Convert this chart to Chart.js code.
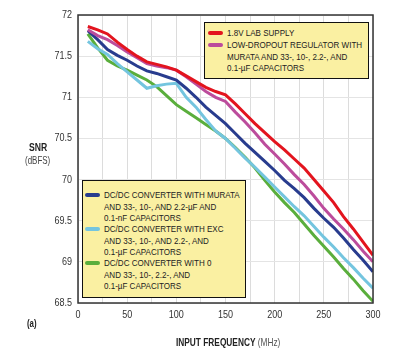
<!DOCTYPE html>
<html>
<head>
<meta charset="utf-8">
<script src="https://cdn.jsdelivr.net/npm/chart.js@4/dist/chart.umd.min.js"></script>
<style>
  html, body { margin: 0; padding: 0; background: #fff; }
  #wrap { position: relative; width: 394px; height: 356px; overflow: hidden;
          font-family: "Liberation Sans", Arial, sans-serif; color: #222; }
  canvas { position: absolute; left: 0; top: 0; }
  .lg { position: absolute; background: #FAF0A2; border: 1.5px solid #111; box-sizing: border-box; }
  .it { position: absolute; font-size: 9.8px; line-height: 11.6px; white-space: pre; color: #222;
        transform: scaleX(0.82); transform-origin: 0 0; }
  .sw { position: absolute; height: 4px; border-radius: 2px; }
  .t { position: absolute; white-space: nowrap; color: #222; transform-origin: 0 0; }
</style>
</head>
<body>
<div id="wrap">
  <canvas id="c" width="394" height="356"></canvas>
  <div class="t" style="left:29px; top:141px; font-size:10.8px; font-weight:bold; transform:scaleX(0.8);">SNR</div>
  <div class="t" style="left:25px; top:154px; font-size:10.5px; color:#444; transform:scaleX(0.76);">(dBFS)</div>
  <div class="t" style="left:27px; top:317px; font-size:10.5px; font-weight:bold; transform:scaleX(0.75);">(a)</div>
  <div class="t" style="left:176px; top:336px; font-size:10.8px; transform:scaleX(0.77);"><b>INPUT FREQUENCY</b> <span style="color:#555">(MHz)</span></div>
  <div id="lgTop" class="lg" style="left:204px; top:22px; width:165px; height:57px;"></div>
  <div id="lgBot" class="lg" style="left:82px; top:180px; width:164px; height:118px;"></div>
</div>
<script>
const freq = [10,20,30,40,50,60,70,80,90,100,110,120,130,140,150,160,170,180,190,200,210,220,230,240,250,260,270,280,290,300];
const labSupply = [71.86,71.82,71.77,71.67,71.58,71.50,71.43,71.40,71.37,71.33,71.26,71.19,71.12,71.07,71.03,70.92,70.80,70.68,70.57,70.46,70.36,70.25,70.14,70.00,69.86,69.72,69.55,69.40,69.24,69.08];
const ldoMurata = [71.82,71.75,71.70,71.63,71.55,71.48,71.41,71.38,71.36,71.33,71.25,71.16,71.07,71.00,70.95,70.82,70.70,70.57,70.43,70.31,70.19,70.06,69.94,69.80,69.65,69.52,69.40,69.27,69.13,69.00];
const dcdcMurata = [71.81,71.70,71.58,71.51,71.45,71.38,71.32,71.29,71.25,71.21,71.11,71.00,70.88,70.78,70.68,70.56,70.44,70.33,70.22,70.11,69.99,69.89,69.78,69.65,69.53,69.42,69.29,69.15,69.02,68.88];
const dcdcExc = [71.68,71.59,71.52,71.41,71.31,71.21,71.11,71.14,71.16,71.17,71.00,70.88,70.73,70.59,70.50,70.38,70.26,70.15,70.03,69.91,69.79,69.67,69.56,69.43,69.30,69.18,69.05,68.93,68.80,68.68];
const dcdcZero = [71.77,71.60,71.45,71.38,71.33,71.27,71.21,71.13,71.02,70.91,70.83,70.75,70.67,70.59,70.50,70.39,70.27,70.14,69.99,69.85,69.72,69.60,69.46,69.32,69.19,69.06,68.92,68.79,68.65,68.52];

const seriesLabels = [
  "1.8V LAB SUPPLY",
  "LOW-DROPOUT REGULATOR WITH\nMURATA AND 33-, 10-, 2.2-, AND\n0.1-\u00b5F CAPACITORS",
  "DC/DC CONVERTER WITH MURATA\nAND 33-, 10-, AND 2.2-\u00b5F AND\n0.1-nF CAPACITORS",
  "DC/DC CONVERTER WITH EXC\nAND 33-, 10-, AND 2.2-, AND\n0.1-\u00b5F CAPACITORS",
  "DC/DC CONVERTER WITH 0\nAND 33-, 10-, 2.2-, AND\n0.1-\u00b5F CAPACITORS"
];
const seriesValues = [labSupply, ldoMurata, dcdcMurata, dcdcExc, dcdcZero];
const seriesColors = ["#E3141E", "#BC4C9C", "#283C8E", "#74C5DF", "#5AAE3C"];
const xTicks = [0, 50, 100, 150, 200, 250, 300];
const yTicks = [68.5, 69, 69.5, 70, 70.5, 71, 71.5, 72];

const datasets = seriesValues.map((vals, i) => ({
  label: seriesLabels[i],
  data: freq.map((f, j) => ({ x: f, y: vals[j] })),
  borderColor: seriesColors[i],
  backgroundColor: seriesColors[i],
  borderWidth: 3,
  pointRadius: 0,
  tension: 0,
  fill: false
}));

const TICK_FONT = '11px "Liberation Sans", Arial, sans-serif';
const SQUEEZE = 0.82;

const frame = {
  id: 'frame',
  afterDraw(chart) {
    const a = chart.chartArea, ctx = chart.ctx;
    ctx.save();
    ctx.strokeStyle = '#333';
    ctx.lineWidth = 1.5;
    ctx.strokeRect(a.left, a.top, a.right - a.left, a.bottom - a.top);
    // condensed tick labels, positioned by the library's scales
    ctx.font = TICK_FONT;
    ctx.fillStyle = '#333';
    ctx.textBaseline = 'middle';
    const xs = chart.scales.x, ys = chart.scales.y;
    xTicks.forEach(v => {
      const px = xs.getPixelForValue(v);
      const txt = String(v);
      const w = ctx.measureText(txt).width * SQUEEZE;
      ctx.save();
      ctx.translate(px - w / 2, a.bottom + 12);
      ctx.scale(SQUEEZE, 1);
      ctx.textAlign = 'left';
      ctx.fillText(txt, 0, 0);
      ctx.restore();
    });
    yTicks.forEach(v => {
      const py = ys.getPixelForValue(v);
      const txt = String(v);
      const w = ctx.measureText(txt).width * SQUEEZE;
      ctx.save();
      ctx.translate(a.left - 6 - w, py);
      ctx.scale(SQUEEZE, 1);
      ctx.textAlign = 'left';
      ctx.fillText(txt, 0, 0);
      ctx.restore();
    });
    ctx.restore();
  }
};

new Chart(document.getElementById('c'), {
  type: 'line',
  data: { datasets },
  options: {
    responsive: false,
    animation: false,
    layout: { padding: { left: 0, right: 21, top: 15, bottom: 0 } },
    plugins: { legend: { display: false }, tooltip: { enabled: false } },
    scales: {
      x: {
        type: 'linear', min: 0, max: 300,
        afterFit(s) { s.height = 53; },
        afterBuildTicks(s) { s.ticks = []; for (let v = 0; v <= 300; v += 25) s.ticks.push({ value: v }); },
        ticks: { display: false },
        grid: { color: '#dcdcdc', lineWidth: 1, drawTicks: false },
        border: { display: false }
      },
      y: {
        type: 'linear', min: 68.5, max: 72,
        afterFit(s) { s.width = 78; },
        afterBuildTicks(s) { s.ticks = yTicks.map(v => ({ value: v })); },
        ticks: { display: false },
        grid: { color: '#e4e4e4', lineWidth: 1, drawTicks: false },
        border: { display: false }
      }
    }
  },
  plugins: [frame]
});

function buildLegend(el, idxs, swLeft, txtLeft, tops) {
  idxs.forEach((di, k) => {
    const sw = document.createElement('div');
    sw.className = 'sw';
    sw.style.left = swLeft + 'px';
    sw.style.width = '15px';
    sw.style.top = (tops[k] + 4) + 'px';
    sw.style.background = seriesColors[di];
    el.appendChild(sw);
    const t = document.createElement('div');
    t.className = 'it';
    t.style.left = txtLeft + 'px';
    t.style.top = tops[k] + 'px';
    t.textContent = seriesLabels[di];
    el.appendChild(t);
  });
}
buildLegend(document.getElementById('lgTop'), [0, 1], 3, 22, [4, 16]);
buildLegend(document.getElementById('lgBot'), [2, 3, 4], 2, 21, [8, 42, 76]);
</script>
</body>
</html>
